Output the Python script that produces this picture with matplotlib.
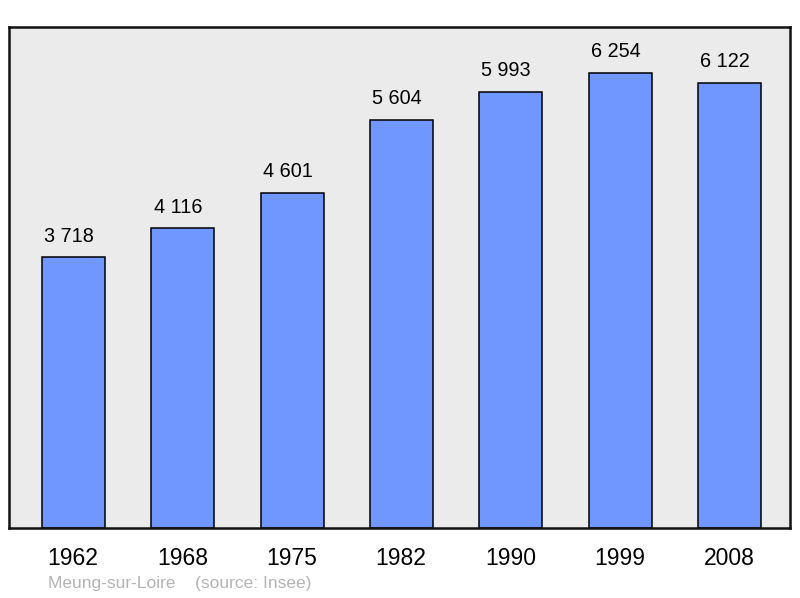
import matplotlib
matplotlib.use("Agg")
import matplotlib.pyplot as plt

years = ["1962", "1968", "1975", "1982", "1990", "1999", "2008"]
population = [3718, 4116, 4601, 5604, 5993, 6254, 6122]
value_labels = ["3 718", "4 116", "4 601", "5 604", "5 993", "6 254", "6 122"]

plt.rcParams['font.family'] = ['Liberation Sans', 'DejaVu Sans']

fig = plt.figure(figsize=(8, 5.98), dpi=100)
ax = fig.add_axes([0.01125, 0.117, 0.97625, 0.838])
ax.set_facecolor('#ebebeb')

x = range(len(years))
bars = ax.bar([xi + 0.005 for xi in x], population, width=0.576, color='#7096ff',
              edgecolor='black', linewidth=1.1, zorder=2)

# value labels above bars (slightly left of centre, as in the original)
for xi, v, lab in zip(x, population, value_labels):
    ax.annotate(lab, (xi, v), xytext=(-3, 8.5), textcoords='offset points',
                ha='center', va='bottom', fontsize=14.3)

ax.set_xlim(-0.585, 6.558)
ax.set_ylim(0, 6886)
ax.set_xticks(list(x))
ax.set_xticklabels(years, fontsize=16.5)
ax.tick_params(axis='x', length=0, pad=14)
ax.set_yticks([])

for s in ax.spines.values():
    s.set_linewidth(1.8)
    s.set_color('#111111')

fig.text(0.06, 0.017, 'Meung-sur-Loire    (source: Insee)', fontsize=12.5, color='#b4b4b4')

fig.savefig('out.png', dpi=100)
